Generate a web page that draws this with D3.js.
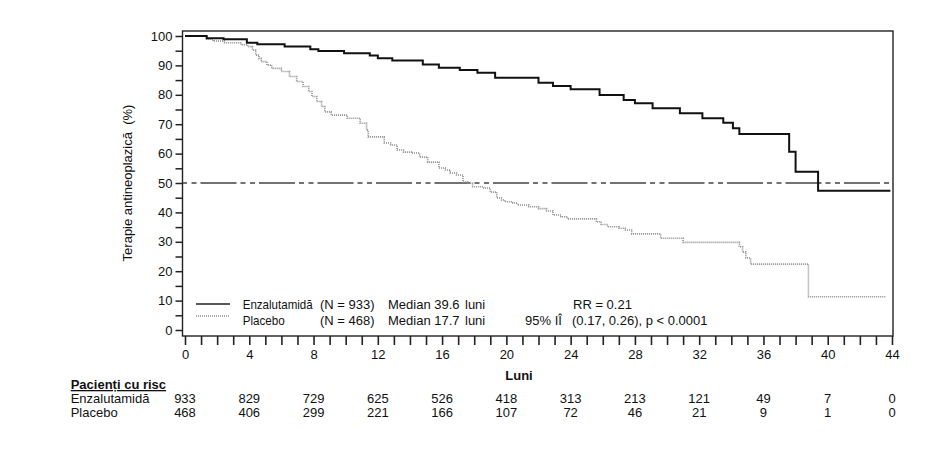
<!DOCTYPE html>
<html>
<head>
<meta charset="utf-8">
<script src="https://cdn.jsdelivr.net/npm/d3@7"></script>
<style>
  body { margin: 0; background: #fff; }
  text { font-family: "Liberation Sans", Arial, sans-serif; fill: #111; }
</style>
</head>
<body>
<div id="chart"></div>
<script>
// Kaplan-Meier data (luni, %) ----------------------------------------------------------
const enzSteps = [[0,100],[1.35,99.2],[2.4,98.9],[3.85,97.7],[4.5,97.2],[6.2,96.4],[7.8,95.5],[8.3,94.9],
  [9.9,94.1],[11.5,93.4],[12.0,92.4],[12.9,91.7],[14.8,90.3],[15.8,89.2],[17.1,88.4],[18.2,87.5],
  [19.3,85.8],[22.0,84.1],[22.9,83.0],[24.0,81.9],[25.8,79.9],[27.3,78.2],[28.0,77.1],[29.1,75.4],
  [30.8,73.7],[32.2,72.0],[33.5,70.5],[34.1,68.6],[34.5,66.7],[37.6,60.6],[38.0,53.8],[39.4,47.4],[43.9,47.4]];
const plaSteps = [[0,100],[1.35,98.9],[1.75,98.3],[2.45,97.7],[3.5,97.0],[3.9,96.4],[4.2,95.2],[4.4,93.5],
  [4.6,92.4],[4.75,91.3],[5.1,90.1],[5.4,89.0],[6.0,87.9],[6.5,86.2],[6.95,84.5],[7.35,82.8],[7.7,81.1],
  [7.9,79.4],[8.2,77.7],[8.5,76.0],[8.7,74.2],[9.1,73.1],[10.1,72.0],[10.9,70.3],[11.3,68.0],[11.4,65.7],
  [12.4,63.6],[12.8,62.9],[13.2,61.2],[13.6,60.5],[14.1,60.2],[14.6,58.8],[15.1,57.1],[15.8,55.1],
  [16.2,54.4],[16.5,53.4],[16.9,52.7],[17.3,50.3],[17.6,49.9],[17.9,48.7],[18.6,48.3],[19.0,46.9],
  [19.4,44.9],[19.7,44.2],[19.9,43.6],[20.4,43.2],[20.7,42.5],[21.4,41.9],[22.0,41.3],[22.5,40.5],
  [22.9,39.1],[23.4,38.5],[23.8,37.8],[25.6,36.8],[25.9,35.9],[26.3,35.1],[27.0,34.6],[27.4,34.0],
  [27.8,32.7],[29.6,31.2],[31.0,29.8],[34.5,28.3],[34.7,26.5],[34.9,24.5],[35.2,22.4],[38.8,11.3],[43.6,11.3]];
const median = 50;
// pacienti cu risc
const riskMonths = [0,4,8,12,16,20,24,28,32,36,40,44];
const riskEnz = [933,829,729,625,526,418,313,213,121,49,7,0];
const riskPla = [468,406,299,221,166,107,72,46,21,9,1,0];
const yLabel = 'Terapie antineoplazică  (%)';
const xLabel = 'Luni';

// SVG ------------------------------------------------------------------------------------
const width = 935, height = 449;
const svg = d3.select('#chart').append('svg')
  .attr('width', width)
  .attr('height', height);
svg.append('rect').attr('width', width).attr('height', height).attr('fill', '#fff');

const frame = { left: 182.5, right: 893, top: 31, bottom: 336 };
const xScale = d3.scaleLinear().domain([0, 44]).range([185, 892]);
const yScale = d3.scaleLinear().domain([0, 100]).range([330, 36]);

// frame
svg.append('rect')
  .attr('x', frame.left).attr('y', frame.top)
  .attr('width', frame.right - frame.left).attr('height', frame.bottom - frame.top)
  .attr('fill', 'none').attr('stroke', '#222').attr('stroke-width', 1.4);

// x axis
const xAxis = svg.append('g')
  .attr('transform', 'translate(0,' + frame.bottom + ')')
  .call(d3.axisBottom(xScale)
    .tickValues(d3.range(0, 45, 1))
    .tickSize(9)
    .tickPadding(5)
    .tickFormat(d => d % 4 === 0 ? d : ''));
xAxis.select('.domain').remove();
xAxis.selectAll('.tick line').attr('stroke', '#222').attr('stroke-width', 1.6);
xAxis.selectAll('text').attr('font-size', '13px').attr('fill', '#222')
  .style('font-family', '"Liberation Sans", Arial, sans-serif');

// y axis
const yAxis = svg.append('g')
  .attr('transform', 'translate(' + frame.left + ',0)')
  .call(d3.axisLeft(yScale)
    .tickValues(d3.range(0, 101, 5))
    .tickSize(7)
    .tickPadding(3)
    .tickFormat(d => d % 10 === 0 ? d : ''));
yAxis.select('.domain').remove();
yAxis.selectAll('.tick line').attr('stroke', '#222').attr('stroke-width', 1.5);
yAxis.selectAll('text').attr('font-size', '13px').attr('fill', '#222')
  .style('font-family', '"Liberation Sans", Arial, sans-serif');

// axis titles
svg.append('text')
  .attr('transform', 'translate(132,183) rotate(-90)')
  .attr('text-anchor', 'middle')
  .attr('font-size', '13px')
  .style('white-space', 'pre')
  .text(yLabel);
svg.append('text')
  .attr('x', 519).attr('y', 380)
  .attr('text-anchor', 'middle')
  .attr('font-size', '13px').attr('font-weight', 'bold')
  .text(xLabel);

// median line
svg.append('line')
  .attr('x1', frame.left).attr('x2', frame.right)
  .attr('y1', yScale(median)).attr('y2', yScale(median))
  .attr('stroke', '#444').attr('stroke-width', 1.6)
  .attr('stroke-dasharray', '36,4,5,4.5,5,4')
  .attr('stroke-dashoffset', 40.5);

// curves
const line = d3.line()
  .x(d => xScale(d[0]))
  .y(d => yScale(d[1]))
  .curve(d3.curveStepAfter);
svg.append('path').datum(plaSteps)
  .attr('d', line)
  .attr('fill', 'none').attr('stroke', '#8c8c8c').attr('stroke-width', 1.6)
  .attr('stroke-dasharray', '1,1');
svg.append('path').datum(enzSteps)
  .attr('d', line)
  .attr('fill', 'none').attr('stroke', '#111').attr('stroke-width', 2);

// legend
svg.append('line').attr('x1', 196).attr('x2', 230).attr('y1', 304).attr('y2', 304)
  .attr('stroke', '#222').attr('stroke-width', 1.3);
svg.append('line').attr('x1', 196).attr('x2', 230).attr('y1', 316).attr('y2', 316)
  .attr('stroke', '#8c8c8c').attr('stroke-width', 1.6).attr('stroke-dasharray', '1,1');

const legendRows = [
  { y: 309, name: 'Enzalutamidă', nameW: 70, n: '(N = 933)', med: 'Median 39.6' },
  { y: 325, name: 'Placebo', nameW: 42, n: '(N = 468)', med: 'Median 17.7' }
];
legendRows.forEach(r => {
  svg.append('text').attr('x', 242.7).attr('y', r.y).attr('font-size', '13.5px')
    .attr('textLength', r.nameW).attr('lengthAdjust', 'spacingAndGlyphs')
    .text(r.name);
  svg.append('text').attr('x', 320).attr('y', r.y).attr('font-size', '13px').text(r.n);
  svg.append('text').attr('x', 388).attr('y', r.y).attr('font-size', '13px').text(r.med);
  svg.append('text').attr('x', 465).attr('y', r.y).attr('font-size', '13px').text('luni');
});
svg.append('text').attr('x', 573).attr('y', 309).attr('font-size', '13px').text('RR = 0.21');
svg.append('text').attr('x', 525).attr('y', 325).attr('font-size', '13px').text('95% IÎ');
svg.append('text').attr('x', 572).attr('y', 325).attr('font-size', '13px').text('(0.17, 0.26), p < 0.0001');

// risk table
svg.append('text').attr('x', 70.7).attr('y', 389)
  .attr('font-size', '13px').attr('font-weight', 'bold')
  .attr('text-decoration', 'underline')
  .text('Pacienți cu risc');
const riskRows = [
  { label: 'Enzalutamidă', vals: riskEnz, y: 403 },
  { label: 'Placebo', vals: riskPla, y: 416.5 }
];
riskRows.forEach(r => {
  svg.append('text').attr('x', 70.7).attr('y', r.y).attr('font-size', '13px').text(r.label);
  svg.append('g').selectAll('text')
    .data(r.vals)
    .enter()
    .append('text')
    .attr('x', (d, i) => xScale(riskMonths[i]))
    .attr('y', r.y)
    .attr('text-anchor', 'middle')
    .attr('font-size', '13px')
    .text(d => d);
});
</script>
</body>
</html>
